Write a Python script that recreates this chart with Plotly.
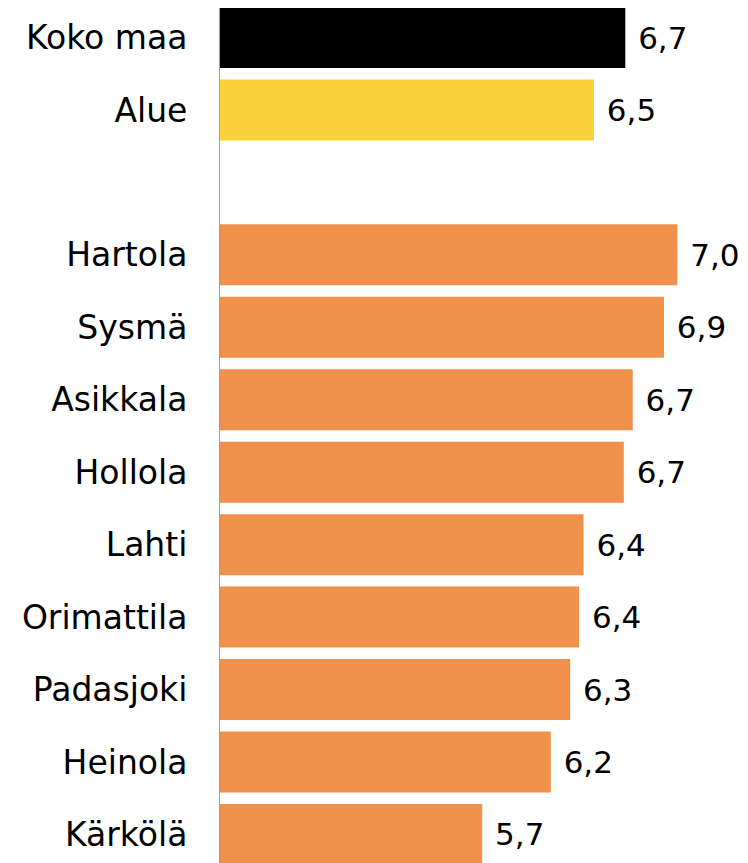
import plotly.graph_objects as go

categories = ["Koko maa", "Alue", " ", "Hartola", "Sysmä", "Asikkala", "Hollola",
              "Lahti", "Orimattila", "Padasjoki", "Heinola", "Kärkölä"]
values = [6.67, 6.46, None, 7.02, 6.93, 6.72, 6.66, 6.39, 6.36, 6.30, 6.17, 5.71]
colors = ["#000000", "#FDD13A", "#FFFFFF"] + ["#F0924B"] * 9

labels = [("\u00a0" + f"{v:.1f}".replace(".", ",")) if v is not None else "" for v in values]

fig = go.Figure(go.Bar(
    y=categories, x=values, orientation="h",
    marker=dict(color=colors, line=dict(width=0)),
    width=0.842,
    text=labels, textposition="outside", cliponaxis=False,
    textfont=dict(family="DejaVu Sans", size=31, color="#000000"),
    hoverinfo="skip",
))

fig.update_layout(
    width=740, height=855,
    margin=dict(l=212, r=0, t=0, b=0),
    paper_bgcolor="white", plot_bgcolor="white",
    showlegend=False,
    font=dict(family="DejaVu Sans", size=33, color="#000000"),
    xaxis=dict(range=[3.95, 7.4936], visible=False, showgrid=False, zeroline=False),
    yaxis=dict(
        type="category", categoryarray=categories,
        range=[11.394, -0.4072],
        showline=True, linecolor="#A0A0A0", linewidth=1,
        ticks="outside", ticklen=25, tickcolor="rgba(0,0,0,0)",
        showgrid=False, zeroline=False,
        tickfont=dict(family="DejaVu Sans", size=33, color="#000000"),
    ),
)

fig.write_html("out.html")
